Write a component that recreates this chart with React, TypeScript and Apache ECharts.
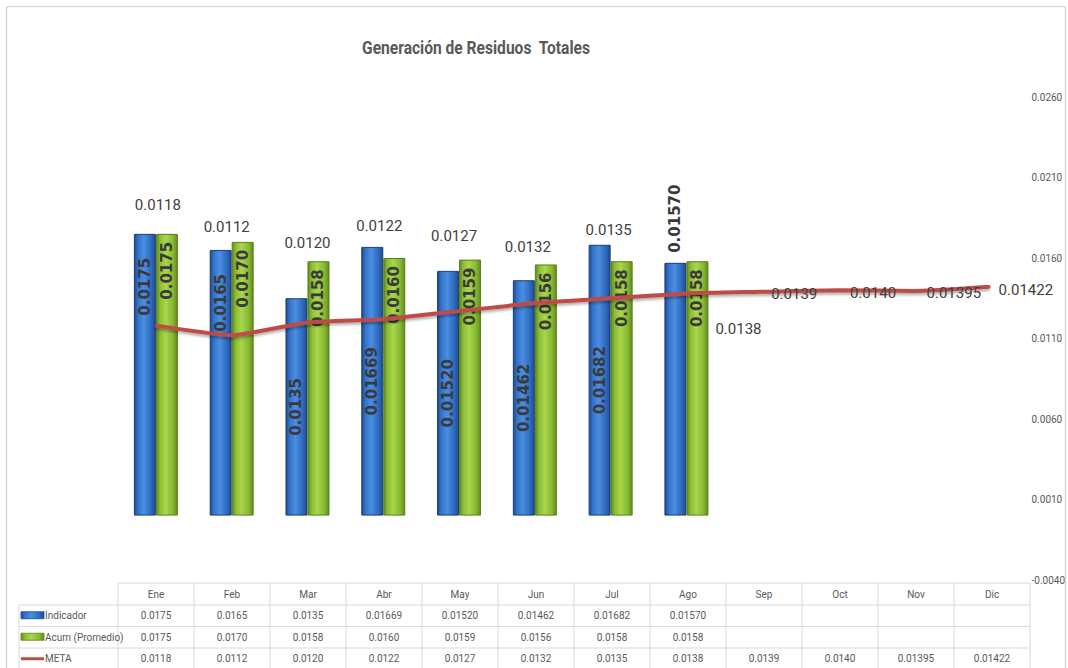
import React, { useEffect, useRef } from "react";
import * as echarts from "echarts";

// ---------- data ----------
const chartTitle = "Generación de Residuos  Totales";
const months = ["Ene", "Feb", "Mar", "Abr", "May", "Jun", "Jul", "Ago", "Sep", "Oct", "Nov", "Dic"];
const seriesNames = ["Indicador", "Acum (Promedio)", "META"];
const indicadorText = ["0.0175", "0.0165", "0.0135", "0.01669", "0.01520", "0.01462", "0.01682", "0.01570", "", "", "", ""];
const acumText = ["0.0175", "0.0170", "0.0158", "0.0160", "0.0159", "0.0156", "0.0158", "0.0158", "", "", "", ""];
const metaText = ["0.0118", "0.0112", "0.0120", "0.0122", "0.0127", "0.0132", "0.0135", "0.0138", "0.0139", "0.0140", "0.01395", "0.01422"];
const axisMin = -0.004;
const axisMax = 0.026;
const axisStep = 0.005;

// ---------- layout / style ----------
const W = 1068;
const H = 668;
const gridLeft = 118;
const gridRight = 38;
const gridTop = 97;
const gridHeight = 483;
const colW = (W - gridLeft - gridRight) / months.length;
const tableTop = 583;
const headH = 22;
const rowH = 21.5;
const lineColor = "#d9d9d9";
const txtColor = "#595959";
const numFont = "Roboto, 'Noto Sans', sans-serif";
const boldFont = "'DejaVu Sans', Verdana, sans-serif";

const blueGrad = () =>
  new echarts.graphic.LinearGradient(0, 0, 1, 0, [
    { offset: 0, color: "#1c4c93" },
    { offset: 0.18, color: "#3574cc" },
    { offset: 0.45, color: "#4a8ee2" },
    { offset: 0.8, color: "#2f69bd" },
    { offset: 1, color: "#1c4c93" },
  ]);
const greenGrad = () =>
  new echarts.graphic.LinearGradient(0, 0, 1, 0, [
    { offset: 0, color: "#5f8a1d" },
    { offset: 0.18, color: "#8dbe34" },
    { offset: 0.45, color: "#a8d64d" },
    { offset: 0.8, color: "#86b630" },
    { offset: 1, color: "#5f8a1d" },
  ]);
const metaColor = "#bf4b48";

// label placement (style, not data)
const bluePlace = ["insideTop", "insideTop", "inside", "inside", "inside", "inside", "inside", "top"];
const metaShift: number[][] = [
  [2, -121], [-5, -108], [0, -79], [-4, -93], [-5, -75], [-7, -56], [-2, -68],
  [52, 36], [32, 2], [35, 3], [40, 2], [0, 3],
];

const toNum = (s: string) => (s === "" ? null : parseFloat(s));

function barLabel(place: string, text: string) {
  const base: any = {
    show: true,
    rotate: 90,
    formatter: () => text,
    fontFamily: boldFont,
    fontWeight: "bold",
    fontSize: 15,
    color: "#3a3a3a",
  };
  if (place === "insideTop") return { ...base, position: "insideTop", distance: 24, align: "right", verticalAlign: "middle" };
  if (place === "top") return { ...base, position: "top", distance: 10, align: "left", verticalAlign: "middle" };
  return { ...base, position: "inside", align: "center", verticalAlign: "middle" };
}

function buildTable(): any[] {
  const els: any[] = [];
  const tableBottom = tableTop + headH + rowH * 3;
  const right = gridLeft + colW * months.length;
  // chart border
  els.push({
    type: "rect",
    shape: { x: 6.5, y: 6.5, width: W - 9, height: H + 20, r: 2 },
    style: { fill: "none", stroke: lineColor, lineWidth: 1.5 },
    silent: true,
  });
  // horizontal lines
  els.push({ type: "line", shape: { x1: gridLeft, y1: tableTop, x2: right, y2: tableTop }, style: { stroke: lineColor, lineWidth: 1 } });
  for (let r = 0; r <= 3; r++) {
    const y = tableTop + headH + r * rowH;
    els.push({ type: "line", shape: { x1: 19, y1: y, x2: right, y2: y }, style: { stroke: lineColor, lineWidth: 1 } });
  }
  // vertical lines
  for (let c = 0; c <= months.length; c++) {
    const x = gridLeft + c * colW;
    els.push({ type: "line", shape: { x1: x, y1: tableTop, x2: x, y2: tableBottom }, style: { stroke: lineColor, lineWidth: 1 } });
  }
  els.push({ type: "line", shape: { x1: 19, y1: tableTop + headH, x2: 19, y2: tableBottom }, style: { stroke: lineColor, lineWidth: 1 } });
  // header texts
  months.forEach((m, i) => {
    els.push({
      type: "text",
      x: gridLeft + (i + 0.5) * colW,
      y: tableTop + headH / 2,
      style: { text: m, fill: txtColor, font: `10px ${numFont}`, align: "center", verticalAlign: "middle", textAlign: "center", textVerticalAlign: "middle" },
    });
  });
  const rows = [indicadorText, acumText, metaText];
  rows.forEach((row, r) => {
    const yc = tableTop + headH + r * rowH + rowH / 2;
    // legend key
    if (r === 0) {
      els.push({ type: "rect", shape: { x: 21, y: yc - 4, width: 23, height: 7 }, style: { fill: blueGrad(), stroke: "#1c4c93", lineWidth: 0.8 } });
    } else if (r === 1) {
      els.push({ type: "rect", shape: { x: 21, y: yc - 4, width: 23, height: 7 }, style: { fill: greenGrad(), stroke: "#5f8a1d", lineWidth: 0.8 } });
    } else {
      els.push({ type: "line", shape: { x1: 21, y1: yc, x2: 44, y2: yc }, style: { stroke: metaColor, lineWidth: 3 } });
    }
    els.push({
      type: "text",
      x: 45,
      y: yc,
      style: { text: seriesNames[r], fill: txtColor, font: `10px ${numFont}`, align: "left", verticalAlign: "middle", textAlign: "left", textVerticalAlign: "middle" },
    });
    row.forEach((t, i) => {
      if (t === "") return;
      els.push({
        type: "text",
        x: gridLeft + (i + 0.5) * colW,
        y: yc,
        style: { text: t, fill: txtColor, font: `10px ${numFont}`, align: "center", verticalAlign: "middle", textAlign: "center", textVerticalAlign: "middle" },
      });
    });
  });
  // title (condensed to mimic the narrow original face)
  els.push({
    type: "text",
    x: 476,
    y: 47,
    scaleX: 0.82,
    style: {
      text: chartTitle,
      fill: "#595959",
      font: `bold 19px Roboto, 'Noto Sans', sans-serif`,
      align: "center",
      verticalAlign: "middle",
      textAlign: "center",
      textVerticalAlign: "middle",
    },
  });
  return els;
}

function buildOption(): any {
  return {
    animation: false,
    backgroundColor: "#ffffff",
    grid: { left: gridLeft, right: gridRight, top: gridTop, height: gridHeight },
    xAxis: {
      type: "category",
      data: months,
      axisLine: { show: false },
      axisTick: { show: false },
      axisLabel: { show: false },
      splitLine: { show: false },
    },
    yAxis: {
      type: "value",
      position: "right",
      min: axisMin,
      max: axisMax,
      interval: axisStep,
      axisLine: { show: false },
      axisTick: { show: false },
      splitLine: { show: false },
      axisLabel: {
        margin: 4,
        color: txtColor,
        fontSize: 10,
        fontFamily: numFont,
        formatter: (v: number) => v.toFixed(4),
      },
    },
    series: [
      {
        name: seriesNames[0],
        type: "bar",
        barWidth: 22,
        barGap: "0%",
        z: 2,
        itemStyle: { color: blueGrad(), borderColor: "#1a3f78", borderWidth: 1 },
        data: indicadorText.map((t, i) => ({
          value: toNum(t),
          label: t === "" ? { show: false } : barLabel(bluePlace[i], t),
        })),
      },
      {
        name: seriesNames[1],
        type: "bar",
        barWidth: 22,
        barGap: "0%",
        z: 2,
        itemStyle: { color: greenGrad(), borderColor: "#58801a", borderWidth: 1 },
        data: acumText.map((t) => ({
          value: toNum(t),
          label:
            t === ""
              ? { show: false }
              : {
                  show: true,
                  rotate: 90,
                  position: "insideTop",
                  distance: 8,
                  align: "right",
                  verticalAlign: "middle",
                  formatter: () => t,
                  fontFamily: boldFont,
                  fontWeight: "bold",
                  fontSize: 15,
                  color: "#3a3a3a",
                },
        })),
      },
      {
        name: seriesNames[2],
        type: "line",
        z: 4,
        smooth: 0.15,
        symbol: "circle",
        symbolSize: 2,
        showSymbol: true,
        itemStyle: { color: metaColor },
        lineStyle: { color: metaColor, width: 4, shadowColor: "rgba(0,0,0,0.35)", shadowBlur: 3, shadowOffsetY: 2 },
        data: metaText.map((t, i) => ({
          value: toNum(t),
          label: {
            show: true,
            position: i === metaText.length - 1 ? "right" : "inside",
            distance: 8,
            offset: metaShift[i],
            formatter: () => t,
            fontFamily: numFont,
            fontSize: 15,
            color: "#404040",
          },
        })),
      },
    ],
    graphic: buildTable(),
  };
}

export default function App() {
  const ref = useRef<HTMLDivElement>(null);
  useEffect(() => {
    if (!ref.current) return;
    const chart = echarts.init(ref.current, null, { renderer: "svg" });
    chart.setOption(buildOption());
    return () => chart.dispose();
  }, []);
  return (
    <div
      ref={ref}
      style={{ position: "fixed", left: 0, top: 0, width: W, height: H, background: "#ffffff" }}
    />
  );
}
